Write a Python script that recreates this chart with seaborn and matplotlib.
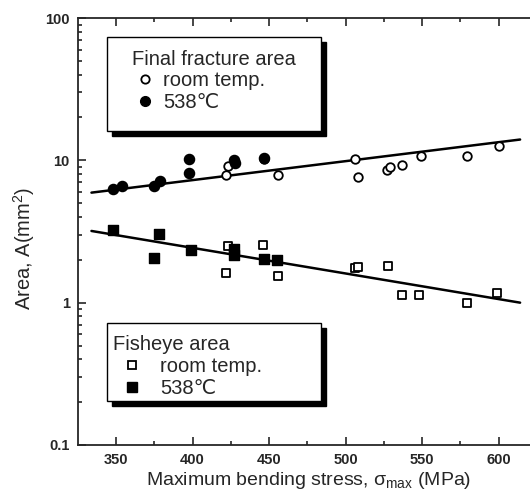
import matplotlib
matplotlib.use('Agg')
import matplotlib.pyplot as plt
import seaborn as sns
from matplotlib.lines import Line2D
from matplotlib.patches import Rectangle
from matplotlib.ticker import MultipleLocator, LogLocator, NullFormatter, FixedFormatter, FixedLocator

# final fracture area
ff_room_x = [423, 422, 447, 456, 506, 508, 527, 529, 537, 549, 579, 600]
ff_room_y = [9.1, 7.9, 10.2, 7.85, 10.3, 7.6, 8.6, 9.0, 9.2, 10.7, 10.7, 12.6]
ff_hot_x = [348, 354, 375, 379, 398, 398, 427, 428, 447]
ff_hot_y = [6.3, 6.6, 6.6, 7.2, 10.3, 8.1, 10.0, 9.6, 10.4]

# fisheye area
fe_room_x = [423, 446, 422, 456, 506, 508, 528, 537, 548, 579, 599]
fe_room_y = [2.51, 2.55, 1.62, 1.53, 1.74, 1.77, 1.82, 1.13, 1.14, 1.0, 1.16]
fe_hot_x = [348, 378, 375, 399, 427, 427, 447, 455]
fe_hot_y = [3.23, 3.03, 2.06, 2.33, 2.40, 2.15, 2.04, 1.99]

# fitted lines
fit_x = [334, 614]
fit_ff = [5.93, 14.0]
fit_fe = [3.19, 1.0]

y_ticks = [0.1, 1, 10, 100]
y_ticklabels = ['0.1', '1', '10', '100']

sns.set_style('ticks')
plt.rcParams['font.family'] = ['Liberation Sans', 'DejaVu Sans']
plt.rcParams['mathtext.fontset'] = 'custom'
plt.rcParams['mathtext.rm'] = 'Liberation Sans'
plt.rcParams['mathtext.it'] = 'Liberation Sans'

W, H = 530, 495
fig = plt.figure(figsize=(W / 100, H / 100), dpi=100)
ax = fig.add_axes([78 / W, 1 - 445 / H, 462 / W, 427 / H])

ms = 38
sns.scatterplot(x=ff_room_x, y=ff_room_y, marker='o', s=ms, facecolor='white',
                edgecolor='black', linewidth=1.3, ax=ax, zorder=3)
sns.scatterplot(x=ff_hot_x, y=ff_hot_y, marker='o', s=ms * 1.4, color='black',
                edgecolor='black', linewidth=1, ax=ax, zorder=3)
sns.scatterplot(x=fe_room_x, y=fe_room_y, marker='s', s=ms, facecolor='white',
                edgecolor='black', linewidth=1.3, ax=ax, zorder=3)
sns.scatterplot(x=fe_hot_x, y=fe_hot_y, marker='s', s=ms * 1.4, color='black',
                edgecolor='black', linewidth=1, ax=ax, zorder=3)
sns.lineplot(x=fit_x, y=fit_ff, color='black', lw=1.8, ax=ax)
sns.lineplot(x=fit_x, y=fit_fe, color='black', lw=1.8, ax=ax)

ax.set_yscale('log')
ax.set_xlim(325.2, 627)
ax.set_ylim(0.1, 100)
ax.xaxis.set_major_locator(MultipleLocator(50))
ax.xaxis.set_minor_locator(MultipleLocator(25))
ax.yaxis.set_major_locator(FixedLocator(y_ticks))
ax.yaxis.set_major_formatter(FixedFormatter(y_ticklabels))
ax.yaxis.set_minor_locator(LogLocator(base=10, subs=range(2, 10)))
ax.yaxis.set_minor_formatter(NullFormatter())
ax.tick_params(which='both', direction='in', top=True, right=False, width=1.2)
ax.tick_params(which='major', length=6, labelsize=10.5, pad=6)
ax.tick_params(which='minor', length=3)
for lab in ax.get_xticklabels() + ax.get_yticklabels():
    lab.set_fontweight('bold')
for side in ['left', 'bottom', 'top']:
    ax.spines[side].set_linewidth(1.3)
ax.spines['right'].set_visible(False)

ax.set_xlabel('Maximum bending stress, $\\sigma_{max}$ (MPa)', fontsize=14, labelpad=2)
ax.set_ylabel('Area, A(mm$^2$)', fontsize=14.5)
ax.yaxis.set_label_coords(-0.088, 0.46)


def box(x0, y0, x1, y1):
    sh = Rectangle(((x0 + 5) / W, 1 - (y1 + 5) / H), (x1 - x0) / W, (y1 - y0) / H,
                   transform=fig.transFigure, facecolor='black', edgecolor='black', zorder=4)
    fr = Rectangle((x0 / W, 1 - y1 / H), (x1 - x0) / W, (y1 - y0) / H,
                   transform=fig.transFigure, facecolor='white', edgecolor='black', lw=1, zorder=5)
    ax.add_patch(sh)
    ax.add_patch(fr)


box(107, 37, 321, 131)
box(107, 323, 321, 401)

h_oc = Line2D([], [], ls='none', marker='o', mfc='white', mec='black', ms=6, mew=1.3)
h_fc = Line2D([], [], ls='none', marker='o', mfc='black', mec='black', ms=7)
h_os = Line2D([], [], ls='none', marker='s', mfc='white', mec='black', ms=6, mew=1.3)
h_fs = Line2D([], [], ls='none', marker='s', mfc='black', mec='black', ms=7)

leg1 = ax.legend([h_oc, h_fc], ['room temp.', '538\u2103'], title='Final fracture area',
                 loc='upper left', bbox_to_anchor=(132 / W, 1 - 50 / H),
                 bbox_transform=fig.transFigure, frameon=False, alignment='left',
                 fontsize=14.5, title_fontsize=14.5, borderpad=0, borderaxespad=0,
                 handlelength=1.3, handletextpad=0.26, labelspacing=0.12)
leg1.set_zorder(6)
ax.add_artist(leg1)
leg2 = ax.legend([h_os, h_fs], ['room temp.', '538\u2103'], title='Fisheye area',
                 loc='upper left', bbox_to_anchor=(113 / W, 1 - 335 / H),
                 bbox_transform=fig.transFigure, frameon=False, alignment='left',
                 fontsize=14.5, title_fontsize=14.5, borderpad=0, borderaxespad=0,
                 handlelength=1.9, handletextpad=0.44, labelspacing=0.15)
leg2.set_zorder(6)

fig.savefig('out.png', dpi=100)
